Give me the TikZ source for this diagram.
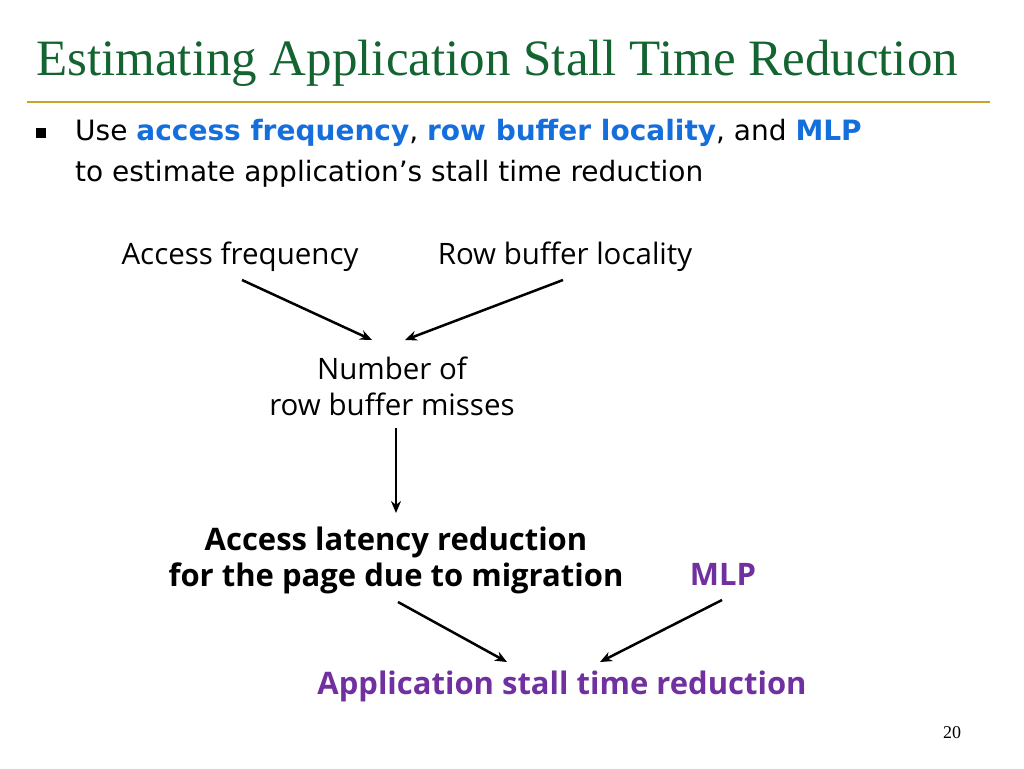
\documentclass[tikz,border=0pt]{standalone}
\usepackage{fontspec}
\setmainfont{Liberation Serif}
\newfontfamily\bodyf{DejaVu Sans}
\newfontfamily\carl{Open Sans}
\usetikzlibrary{arrows.meta}
\definecolor{ttl}{RGB}{20,100,50}
\definecolor{gold}{RGB}{200,165,40}
\definecolor{blu}{RGB}{20,110,220}
\definecolor{pur}{RGB}{112,48,160}
\begin{document}
\begin{tikzpicture}[x=1pt,y=-1pt,
  lab/.style={font=\carl\fontsize{29.5}{38}\selectfont,align=center,inner sep=0pt},
  blab/.style={lab,font=\carl\bfseries\fontsize{31}{38}\selectfont},
  bt/.style={anchor=base west,inner sep=0pt,font=\bodyf\fontsize{28}{30}\selectfont},
  arr/.style={line width=2.5pt,-{Stealth[length=12pt,width=10pt]}}]
\useasboundingbox (0,0) rectangle (1024,768);
\node[anchor=base west,text=ttl,font=\fontsize{51}{54}\selectfont,inner sep=0pt] (title) at (36,75) {Estimating Application Stall Time Reduction};
\draw[gold,line width=1.5pt] (27,102) -- (990,102);
\fill (36,128) rectangle (46,138);
\node[bt] (bul1) at (75,140) {Use \textcolor{blu}{\bfseries access frequency}, \textcolor{blu}{\bfseries row buffer locality}, and \textcolor{blu}{\bfseries MLP}};
\node[bt] (bul2) at (75,181) {to estimate application’s stall time reduction};
\node[lab] (af) at (240,257) {Access frequency};
\node[lab] (rb) at (565,257) {Row buffer locality};
\node[lab] (nm) at (392,386) {Number of\\[-2pt]row buffer misses};
\node[blab] (al) at (396,560) {Access latency reduction\\[-2pt]for the page due to migration};
\node[blab,text=pur] (mlp) at (723,574) {MLP};
\node[blab,text=pur] (as) at (562,686) {Application stall time reduction};
\node[font=\fontsize{18}{20}\selectfont] (pg) at (952,733) {20};
\coordinate (a1) at (242,280); \coordinate (a2) at (372,340);
\coordinate (b1) at (563,280); \coordinate (b2) at (405,340);
\coordinate (c1) at (396,428); \coordinate (c2) at (396,513);
\coordinate (d1) at (398,602); \coordinate (d2) at (507,662);
\coordinate (e1) at (722,600); \coordinate (e2) at (600,662);
\draw[arr] (a1) -- (a2);
\draw[arr] (b1) -- (b2);
\draw[arr] (c1) -- (c2);
\draw[arr] (d1) -- (d2);
\draw[arr] (e1) -- (e2);
\end{tikzpicture}
\end{document}
